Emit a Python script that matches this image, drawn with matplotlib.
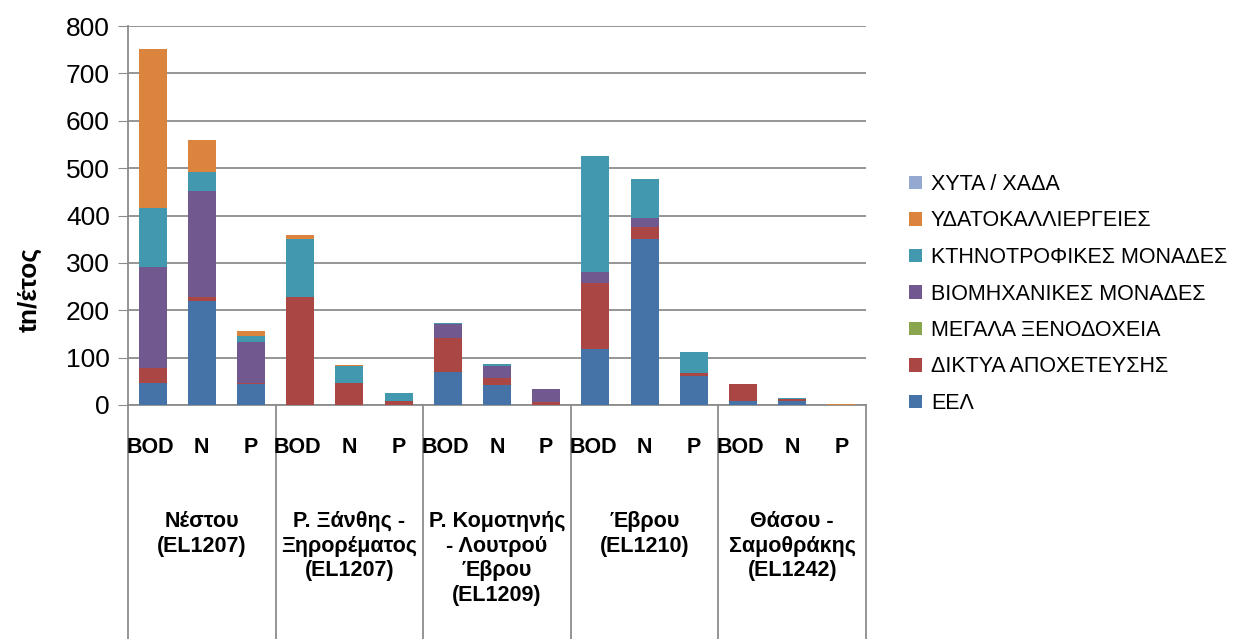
import matplotlib.pyplot as plt
import numpy as np

plt.rcParams['font.family'] = ['Liberation Sans', 'DejaVu Sans']

# Κατηγορίες (ανά λεκάνη: BOD, N, P)
params = ["BOD", "N", "P"] * 5
groups = [
    "Νέστου\n(EL1207)",
    "Ρ. Ξάνθης -\nΞηρορέματος\n(EL1207)",
    "Ρ. Κομοτηνής\n- Λουτρού\nΈβρου\n(EL1209)",
    "Έβρου\n(EL1210)",
    "Θάσου -\nΣαμοθράκης\n(EL1242)",
]

# Φορτία (tn/έτος) ανά πηγή
eel = [47, 219, 45, 0, 0, 0, 70, 43, 1, 119, 350, 61, 8, 8, 0]
diktya = [31, 8, 1, 228, 47, 9, 72, 14, 5, 138, 26, 7, 36, 5, 0]
xenodoxeia = [0, 0, 0, 0, 0, 0, 0, 0, 0, 0, 0, 0, 0, 0, 0]
viomixanikes = [214, 225, 88, 0, 0, 0, 28, 26, 27, 24, 18, 0, 0, 0, 0]
ktinotrofikes = [123, 40, 12, 123, 35, 17, 4, 3, 0, 244, 82, 44, 0, 1, 0]
ydatokal = [336, 67, 11, 7, 2, 0, 0, 0, 0, 0, 0, 0, 0, 1, 2]
xyta = [0, 0, 0, 0, 0, 0, 0, 0, 0, 0, 0, 0, 0, 0, 0]

series = [
    ("ΕΕΛ", eel, "#4572A7"),
    ("ΔΙΚΤΥΑ ΑΠΟΧΕΤΕΥΣΗΣ", diktya, "#AA4643"),
    ("ΜΕΓΑΛΑ ΞΕΝΟΔΟΧΕΙΑ", xenodoxeia, "#89A54E"),
    ("ΒΙΟΜΗΧΑΝΙΚΕΣ ΜΟΝΑΔΕΣ", viomixanikes, "#71588F"),
    ("ΚΤΗΝΟΤΡΟΦΙΚΕΣ ΜΟΝΑΔΕΣ", ktinotrofikes, "#4198AF"),
    ("ΥΔΑΤΟΚΑΛΛΙΕΡΓΕΙΕΣ", ydatokal, "#DB843D"),
    ("ΧΥΤΑ / ΧΑΔΑ", xyta, "#93A9CF"),
]

fig = plt.figure(figsize=(12.33, 6.39), dpi=100)
ax = fig.add_axes([128 / 1233, 1 - 405 / 639, 738 / 1233, 379 / 639])

x = np.arange(len(params))
bottom = np.zeros(len(params))
handles = []
for name, vals, color in series:
    b = ax.bar(x, vals, 0.57, bottom=bottom, color=color, label=name, zorder=3)
    handles.append(b)
    bottom += np.array(vals)

ax.set_xlim(-0.5, len(params) - 0.5)
ax.set_ylim(0, 800)
ax.set_yticks(range(0, 801, 100))
ax.tick_params(axis='y', labelsize=19, length=7, color='#8c8c8c', pad=6)
ax.grid(axis='y', color='#8c8c8c', linewidth=1.3, zorder=0)
ax.set_xticks([])
for s in ['top', 'right']:
    ax.spines[s].set_visible(False)
for s in ['left', 'bottom']:
    ax.spines[s].set_color('#8c8c8c')
    ax.spines[s].set_linewidth(1.3)

trans = ax.get_xaxis_transform()
for xi, p in zip(x, params):
    ax.text(xi - (0.05 if p == "BOD" else 0), -0.111, p, transform=trans,
            ha='center', va='center', fontsize=15.5, fontweight='bold')
for gi, g in enumerate(groups):
    ax.text(gi * 3 + 1, -0.28, g, transform=trans, ha='center', va='top',
            fontsize=15.5, fontweight='bold', linespacing=1.22)
for d in np.arange(-0.5, len(params), 3):
    ax.plot([d, d], [0, -0.62], transform=trans, color='#8c8c8c',
            linewidth=1.3, clip_on=False)

fig.text(30 / 1233, 1 - 290 / 639, "tn/έτος", rotation=90, ha='center',
         va='center', fontsize=19, fontweight='bold')

ax.legend(handles[::-1], [s[0] for s in series][::-1], loc='center left',
          bbox_to_anchor=(905 / 1233, 1 - 294 / 639),
          bbox_transform=fig.transFigure, frameon=False, fontsize=15.5,
          handlelength=0.6, handleheight=0.6, handletextpad=0.4,
          labelspacing=0.72, borderaxespad=0, borderpad=0.2)

fig.savefig("out.png", dpi=100)
